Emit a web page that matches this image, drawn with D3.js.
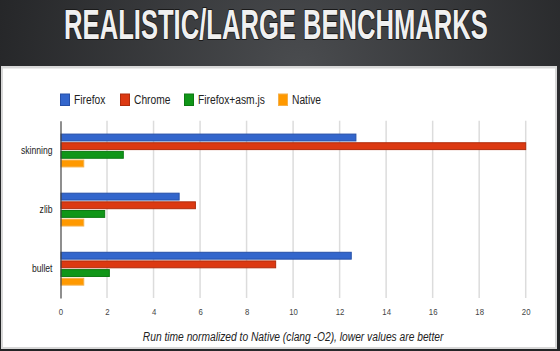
<!DOCTYPE html>
<html>
<head>
<meta charset="utf-8">
<script src="https://cdn.jsdelivr.net/npm/d3@7"></script>
<style>
  body { margin: 0; background: #2b2c2e; }
  svg { display: block; }
</style>
</head>
<body>
<div id="chart"></div>
<script>
// data
const categories = ["skinning", "zlib", "bullet"];
const seriesNames = ["Firefox", "Chrome", "Firefox+asm.js", "Native"];
const firefox = [12.7, 5.1, 12.5];
const chrome = [20, 5.8, 9.25];
const firefoxAsm = [2.7, 1.9, 2.1];
const native = [1, 1, 1];
const xTicks = [0, 2, 4, 6, 8, 10, 12, 14, 16, 18, 20];

const colors = ["#3366cc", "#dc3912", "#109618", "#ff9900"];
const strokes = ["#2650a8", "#b02c0c", "#0c7a12", "#f5b04a"];

const W = 560, H = 351;
const font = "'Liberation Sans', Arial, sans-serif";
const narrow = 0.82; // the picture's text is squeezed sideways

const svg = d3.select("#chart")
    .append("svg")
    .attr("width", W)
    .attr("height", H);

// dark header background
const defs = svg.append("defs");
const grad = defs.append("radialGradient")
    .attr("id", "bg")
    .attr("gradientUnits", "userSpaceOnUse")
    .attr("cx", 300).attr("cy", 70).attr("r", 330);
grad.append("stop").attr("offset", "0%").attr("stop-color", "#4a4c4f");
grad.append("stop").attr("offset", "100%").attr("stop-color", "#232426");

svg.append("rect")
    .attr("width", W).attr("height", H)
    .attr("fill", "url(#bg)");

const title = svg.append("text")
    .attr("x", 0)
    .attr("y", 0)
    .attr("text-anchor", "middle")
    .style("font-family", font)
    .style("font-weight", "bold")
    .style("font-size", "43px")
    .style("fill", "#f0f0f0")
    .style("stroke", "#1a1a1a")
    .style("stroke-width", 2)
    .style("paint-order", "stroke")
    .text("REALISTIC/LARGE BENCHMARKS");
// squeeze the title to the width it has in the picture
const titleLen = title.node().getComputedTextLength();
title.attr("transform", `translate(276, 38.5) scale(${424 / titleLen}, 1)`);

// white panel
svg.append("rect")
    .attr("x", 1).attr("y", 66)
    .attr("width", 556).attr("height", 283)
    .attr("fill", "#d8d8d8");
svg.append("rect")
    .attr("x", 3).attr("y", 68.5)
    .attr("width", 552).attr("height", 278.5)
    .attr("fill", "#fff");

// legend
const legendX = [60, 120, 184, 278];
const legend = svg.selectAll(".legend")
    .data(seriesNames)
    .join("g")
    .attr("class", "legend")
    .attr("transform", (d, i) => `translate(${legendX[i]}, 93.5)`);

legend.append("rect")
    .attr("x", 0.5).attr("y", 0.5)
    .attr("width", 9).attr("height", 11.5)
    .style("fill", (d, i) => colors[i])
    .style("stroke", (d, i) => strokes[i]);

legend.append("text")
    .attr("x", 14 / narrow)
    .attr("y", 11)
    .attr("transform", `scale(${narrow}, 1)`)
    .style("font-family", font)
    .style("font-size", "12.5px")
    .style("fill", "#222")
    .text(d => d);

// plot area
const plotLeft = 60.5, plotRight = 525.7, plotTop = 120.7, plotBottom = 298;

const x = d3.scaleLinear()
    .domain([0, 20])
    .range([plotLeft, plotRight]);

const y = d3.scaleBand()
    .domain(categories)
    .range([plotTop, plotBottom])
    .paddingInner(0.436)
    .paddingOuter(0.218);

const yInner = d3.scaleBand()
    .domain(seriesNames)
    .range([0, y.bandwidth()])
    .paddingInner(0.15);

// gridlines
svg.append("g")
    .selectAll("line")
    .data(xTicks.filter(t => t > 0))
    .join("line")
    .attr("x1", d => x(d)).attr("x2", d => x(d))
    .attr("y1", plotTop).attr("y2", plotBottom)
    .style("stroke", "#dcdcdc")
    .style("stroke-width", 1.5);

// x axis labels
const xAxis = svg.append("g")
    .attr("transform", `translate(0, ${plotBottom})`)
    .call(d3.axisBottom(x).tickValues(xTicks).tickSize(0).tickPadding(10).tickFormat(d3.format("d")));
xAxis.select(".domain").remove();
xAxis.selectAll("text")
    .attr("transform", `scale(${narrow}, 1)`)
    .style("font-family", font)
    .style("font-size", "9.5px")
    .style("fill", "#444");

// bars
const table = categories.map((c, i) => ({
    category: c,
    values: [firefox[i], chrome[i], firefoxAsm[i], native[i]]
}));

const groups = svg.append("g")
    .selectAll("g")
    .data(table)
    .join("g")
    .attr("transform", d => `translate(0, ${y(d.category)})`);

groups.selectAll("rect")
    .data(d => d.values.map((v, i) => ({ name: seriesNames[i], value: v, i: i })))
    .join("rect")
    .attr("x", x(0) + 0.5)
    .attr("y", d => yInner(d.name) + 0.5)
    .attr("width", d => x(d.value) - x(0) - 0.5)
    .attr("height", yInner.bandwidth() - 0.5)
    .style("fill", d => colors[d.i])
    .style("stroke", d => strokes[d.i])
    .style("stroke-width", 1);

// y axis
const yAxis = svg.append("g")
    .attr("transform", `translate(${plotLeft}, 0)`)
    .call(d3.axisLeft(y).tickSize(0).tickPadding(8 / narrow));
yAxis.select(".domain")
    .style("stroke", "#444")
    .style("stroke-width", 1.2);
yAxis.selectAll("text")
    .attr("transform", `scale(${narrow}, 1)`)
    .style("font-family", font)
    .style("font-size", "10.5px")
    .style("fill", "#222");

// axis title
svg.append("g")
    .attr("transform", `translate(${(plotLeft + plotRight) / 2}, 341) scale(${narrow}, 1)`)
    .append("text")
    .attr("text-anchor", "middle")
    .style("font-family", font)
    .style("font-style", "italic")
    .style("font-size", "12.5px")
    .style("fill", "#222")
    .text("Run time normalized to Native (clang -O2), lower values are better");
</script>
</body>
</html>
